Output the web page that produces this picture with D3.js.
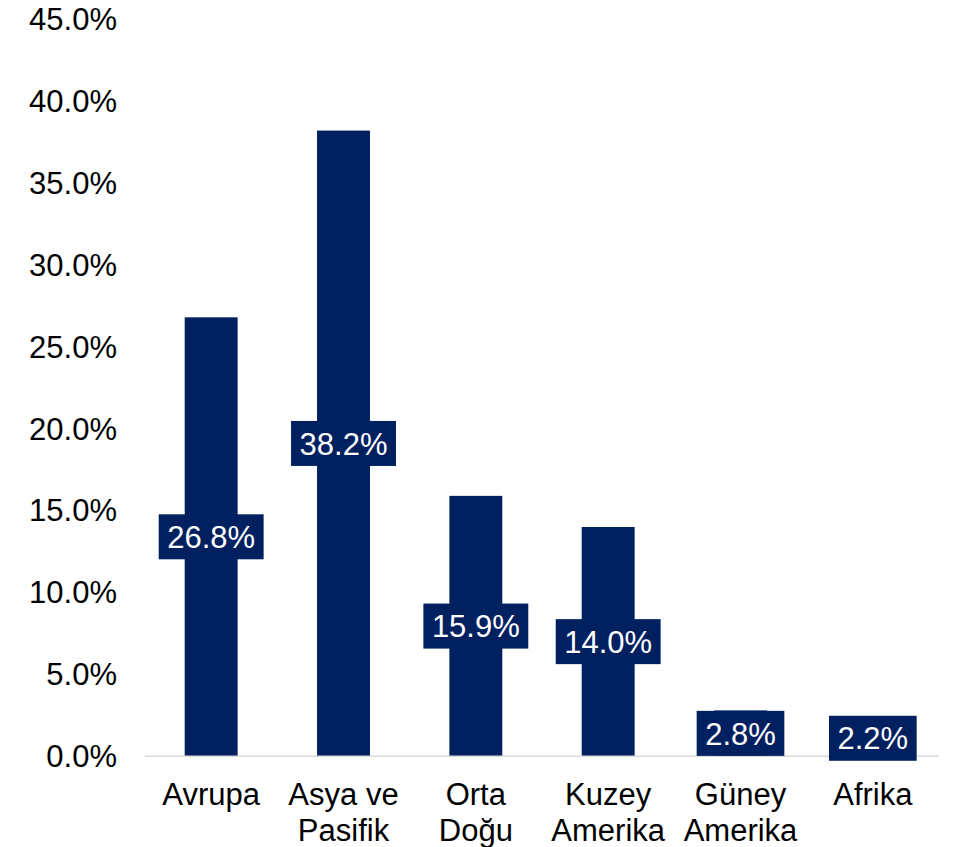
<!DOCTYPE html>
<html>
<head>
<meta charset="utf-8">
<script src="https://cdn.jsdelivr.net/npm/d3@7"></script>
<style>
  html, body { margin: 0; padding: 0; background: #fff; }
  svg { display: block; font-family: "Liberation Sans", Arial, sans-serif; }
</style>
</head>
<body>
<svg width="972" height="847"></svg>
<script>
// data
const categories = ['Avrupa', 'Asya ve\nPasifik', 'Orta\nDoğu', 'Kuzey\nAmerika', 'Güney\nAmerika', 'Afrika'];
const shares = [0.268, 0.382, 0.159, 0.140, 0.028, 0.022];
const yTicks = [0, 0.05, 0.10, 0.15, 0.20, 0.25, 0.30, 0.35, 0.40, 0.45];

const data = categories.map((c, i) => ({ category: c, value: shares[i] }));

const navy = '#002060';
const fontSize = 31;

const svg = d3.select('svg');

const x = d3.scaleBand()
  .domain(categories)
  .range([145, 939])
  .paddingInner(0.6)
  .paddingOuter(0.3);

const y = d3.scaleLinear()
  .domain([0, 0.45])
  .range([756.3, 19.2]);

const fmt = d3.format('.1%');

// y axis labels (no line, no ticks)
svg.append('g')
  .selectAll('text')
  .data(yTicks)
  .enter().append('text')
  .attr('x', 117)
  .attr('y', d => y(d))
  .attr('dy', '0.35em')
  .attr('text-anchor', 'end')
  .attr('font-size', fontSize)
  .attr('fill', '#000')
  .text(d => fmt(d));

// bars
svg.append('g')
  .selectAll('rect')
  .data(data)
  .enter().append('rect')
  .attr('x', d => x(d.category))
  .attr('y', d => y(d.value))
  .attr('width', x.bandwidth())
  .attr('height', d => y(0) - y(d.value))
  .attr('fill', navy);

// baseline
svg.append('line')
  .attr('x1', 145)
  .attr('x2', 939)
  .attr('y1', y(0))
  .attr('y2', y(0))
  .attr('stroke', '#d9d9d9')
  .attr('stroke-width', 1.5);

// category labels, wrapped on \n
const xl = svg.append('g')
  .selectAll('text')
  .data(data)
  .enter().append('text')
  .attr('x', d => x(d.category) + x.bandwidth() / 2)
  .attr('y', 805)
  .attr('text-anchor', 'middle')
  .attr('font-size', fontSize)
  .attr('fill', '#000');

xl.each(function(d) {
  const lines = d.category.split('\n');
  d3.select(this).selectAll('tspan')
    .data(lines)
    .enter().append('tspan')
    .attr('x', x(d.category) + x.bandwidth() / 2)
    .attr('dy', (l, i) => i === 0 ? 0 : 36)
    .text(l => l);
});

// data labels in navy boxes, centred on each bar
const labels = svg.append('g')
  .selectAll('g')
  .data(data)
  .enter().append('g')
  .attr('transform', d => `translate(${x(d.category) + x.bandwidth() / 2},${(y(d.value) + y(0)) / 2})`);

labels.append('text')
  .attr('text-anchor', 'middle')
  .attr('dy', '0.36em')
  .attr('font-size', fontSize)
  .attr('fill', '#fff')
  .text(d => fmt(d.value));

labels.each(function() {
  const g = d3.select(this);
  const bb = g.select('text').node().getBBox();
  g.insert('rect', 'text')
    .attr('x', bb.x - 8.5)
    .attr('y', -22.5)
    .attr('width', bb.width + 17)
    .attr('height', 45)
    .attr('fill', navy);
});
</script>
</body>
</html>
